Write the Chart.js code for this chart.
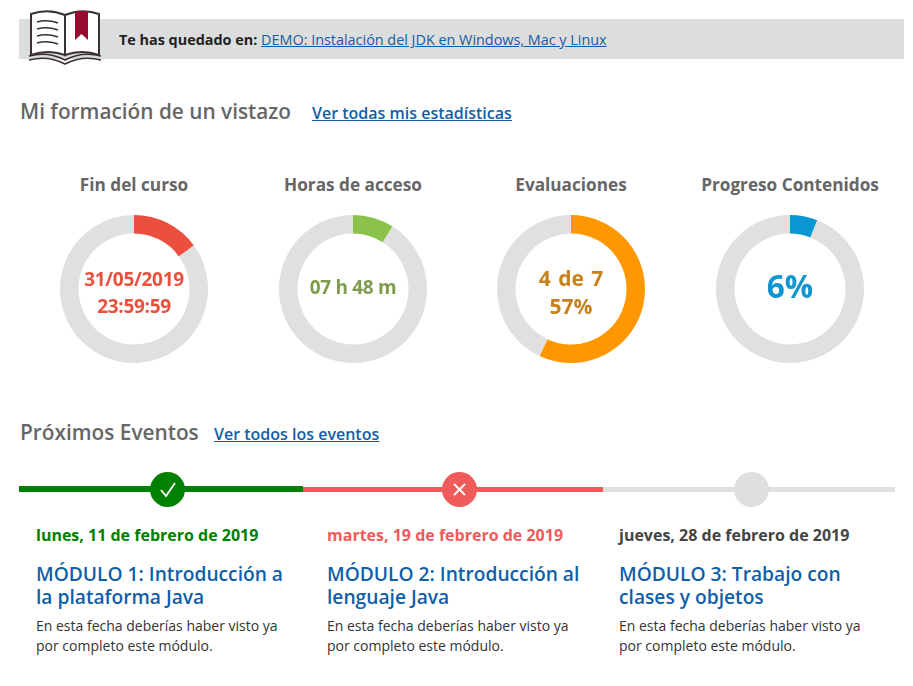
<!DOCTYPE html>
<html lang="es">

<head>
    <meta charset="UTF-8">
    <title>Mi formación</title>
    <script src="https://cdn.jsdelivr.net/npm/chart.js"></script>
    <style>
        html, body { margin: 0; padding: 0; background: #fff; }
        body { width: 913px; height: 686px; position: relative; overflow: hidden; font-family: "Open Sans", sans-serif; color: #555; }
        a { color: #0f5ea8; text-decoration: underline; }
        .abs { position: absolute; white-space: nowrap; }
        .banner { left: 19px; top: 19px; width: 885px; height: 40px; background: #dcdddd; }
        .titulo { font-size: 20.8px; font-weight: 600; color: #666; line-height: 28px; }
        .enlace { font-size: 16px; font-weight: 600; line-height: 24px; }
        .rosco-titulo { width: 218px; text-align: center; font-size: 17.2px; font-weight: 700; color: #666; line-height: 24px; }
        .rosco { position: absolute; top: 215px; width: 148px; height: 148px; }
        .centro { width: 148px; text-align: center; font-weight: 700; }
        .linea { height: 5px; top: 487px; }
        .punto { width: 35px; height: 35px; border-radius: 50%; top: 472px; }
        .fecha { font-size: 16px; font-weight: 700; line-height: 20px; top: 525px; }
        .modulo { font-size: 19.2px; font-weight: 600; color: #0f5ea8; line-height: 23px; top: 562px; }
        .texto { font-size: 14px; color: #333; line-height: 20px; top: 616px; }
    </style>
</head>

<body>
    <!--CABECERA-->
    <div class="abs banner"></div>
    <svg class="abs" style="left:28px;top:9px" width="74" height="57" viewBox="0 0 74 57" fill="none" stroke="#3a3230" stroke-width="2">
        <path d="M3 5 Q20 -1 37 6 V46 Q20 40 3 46 Z" fill="#fff" />
        <path d="M37 6 Q54 -1 71 5 V46 Q54 40 37 46 Z" fill="#fff" />
        <path d="M9 13 Q19 10 30 14 M9 20 Q19 17 30 21 M9 27 Q19 24 30 28 M9 34 Q19 31 30 35" stroke-width="1.6" />
        <path d="M1 47 Q20 42 37 51 Q54 42 73 47 M1 51 Q20 46 37 55 Q54 46 73 51" stroke-width="1.6" />
        <path d="M47 2 H60 V31 L53.500 25 L47 31 Z" fill="#960a32" stroke="none" />
    </svg>
    <div class="abs" style="left:119px;top:30px;font-size:14.4px;line-height:20px;color:#222"><b>Te has quedado en:</b> <a href="#">DEMO: Instalación del JDK en Windows, Mac y Linux</a></div>

    <div class="abs titulo" style="left:20px;top:97px">Mi formación de un vistazo</div>
    <a class="abs enlace" style="left:312px;top:101px" href="#">Ver todas mis estadísticas</a>

    <!--ROSCOS-->
    <div id="roscos"></div>

    <!--EVENTOS-->
    <div class="abs titulo" style="left:20px;top:418px">Próximos Eventos</div>
    <a class="abs enlace" style="left:214px;top:422px" href="#">Ver todos los eventos</a>

    <div class="abs linea" style="left:603px;width:292px;background:#dfdfdf"></div>
    <div class="abs linea" style="left:303px;width:300px;background:#ef5b5b"></div>
    <div class="abs linea" style="left:19px;width:284px;background:#008000;height:6px;top:486px"></div>

    <div class="abs punto" style="left:150px;background:#008000"></div>
    <div class="abs punto" style="left:442px;background:#ef5b5b"></div>
    <div class="abs punto" style="left:734px;background:#dfdfdf"></div>
    <svg class="abs" style="left:150px;top:472px" width="35" height="35" fill="none" stroke="#fff" stroke-width="1.800"><path d="M11 18 L16 24 L25 11" /></svg>
    <svg class="abs" style="left:442px;top:472px" width="35" height="35" fill="none" stroke="#fff" stroke-width="2"><path d="M12 12 L23 23 M23 12 L12 23" /></svg>

    <div id="eventos"></div>
</body>

</html>
<script>
    // datos de los roscos
    const titulos = ["Fin del curso", "Horas de acceso", "Evaluaciones", "Progreso Contenidos"];
    const valores = [15, 9, 57, 6];
    const colores = ["#eb4f3f", "#8bc34a", "#ff9800", "#0a96d2"];
    const coloresTexto = ["#e9513f", "#7f9c4c", "#c8811c", "#0f96d1"];
    const textosCentro = [["31/05/2019", "23:59:59"], ["07 h 48 m"], ["4 de 7", "57%"], ["6%"]];

    // datos de los eventos
    const fechas = ["lunes, 11 de febrero de 2019", "martes, 19 de febrero de 2019", "jueves, 28 de febrero de 2019"];
    const coloresFecha = ["#008000", "#ef5b5b", "#444"];
    const modulos = [["MÓDULO 1: Introducción a", "la plataforma Java"], ["MÓDULO 2: Introducción al", "lenguaje Java"], ["MÓDULO 3: Trabajo con", "clases y objetos"]];
    const textoEvento = ["En esta fecha deberías haber visto ya", "por completo este módulo."];

    const centrosX = [134, 353, 571, 790];
    const estilosCentro = [
        { size: 19, top: [266, 293], lh: 27, ls: -0.3, ws: 0 },
        { size: 19, top: [274], lh: 27, ls: -0.3, ws: 0 },
        { size: 21, top: [264, 292], lh: 28, ls: 0, ws: 2 },
        { size: 31.5, top: [264], lh: 44, ls: 0, ws: 0 }
    ];
    const columnasEvento = [36, 327, 619];

    const roscos = document.getElementById("roscos");

    titulos.forEach(function (titulo, i) {
        const cx = centrosX[i];

        var t = document.createElement("div");
        t.className = "abs rosco-titulo";
        t.style.left = (cx - 109) + "px";
        t.style.top = "173px";
        t.textContent = titulo;
        roscos.appendChild(t);

        var c = document.createElement("canvas");
        c.className = "rosco";
        c.style.left = (cx - 74) + "px";
        c.width = 148;
        c.height = 148;
        roscos.appendChild(c);

        new Chart(c, {
            type: "doughnut",
            data: {
                labels: [titulo, ""],
                datasets: [{
                    data: [valores[i], 100 - valores[i]],
                    backgroundColor: [colores[i], "#e0e0e0"],
                    borderWidth: 0
                }]
            },
            options: {
                responsive: false,
                animation: false,
                devicePixelRatio: 1,
                cutout: "75%",
                events: [],
                layout: { padding: 0 },
                plugins: { legend: { display: false }, tooltip: { enabled: false } }
            }
        });

        textosCentro[i].forEach(function (linea, j) {
            var d = document.createElement("div");
            d.className = "abs centro";
            d.style.left = (cx - 74) + "px";
            d.style.top = estilosCentro[i].top[j] + "px";
            d.style.fontSize = estilosCentro[i].size + "px";
            d.style.lineHeight = estilosCentro[i].lh + "px";
            d.style.letterSpacing = estilosCentro[i].ls + "px";
            d.style.wordSpacing = estilosCentro[i].ws + "px";
            d.style.color = coloresTexto[i];
            d.textContent = linea;
            roscos.appendChild(d);
        });
    });

    const eventos = document.getElementById("eventos");

    fechas.forEach(function (fecha, i) {
        var x = columnasEvento[i];
        var html = '<div class="abs fecha" style="left:' + x + 'px;color:' + coloresFecha[i] + '">' + fecha + '</div>';
        html += '<div class="abs modulo" style="left:' + x + 'px">' + modulos[i].join("<br>") + '</div>';
        html += '<div class="abs texto" style="left:' + x + 'px">' + textoEvento.join("<br>") + '</div>';
        eventos.insertAdjacentHTML("beforeend", html);
    });
</script>
